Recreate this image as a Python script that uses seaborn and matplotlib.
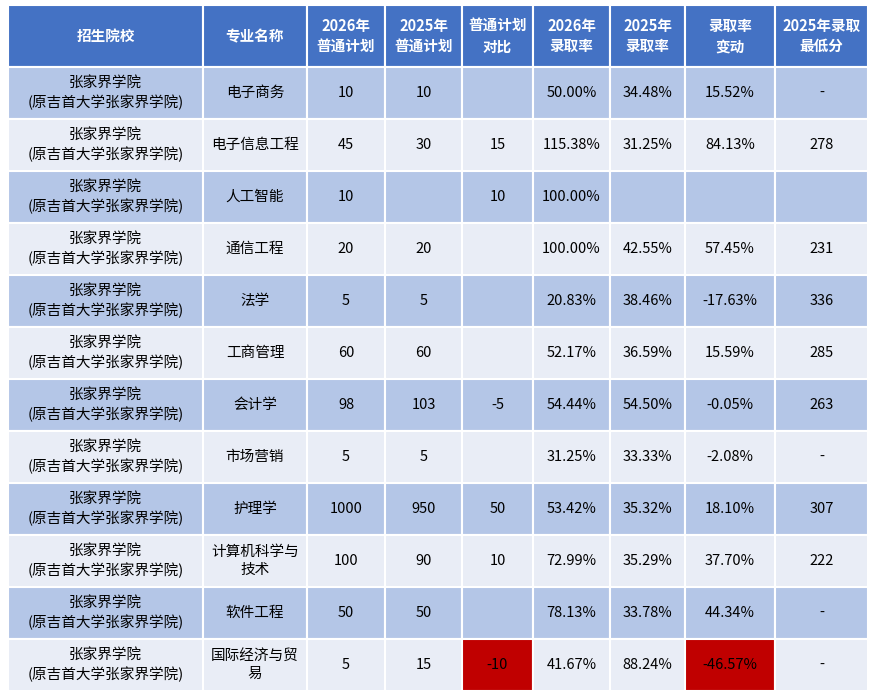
import matplotlib
matplotlib.use("Agg")
import matplotlib.pyplot as plt
import seaborn as sns
from matplotlib.patches import Rectangle

sns.set_theme(style="white")
plt.rcParams['font.family'] = ['Noto Sans CJK SC', 'DejaVu Sans']

headers = ["招生院校", "专业名称", "2026年\n普通计划", "2025年\n普通计划", "普通计划\n对比",
           "2026年\n录取率", "2025年\n录取率", "录取率\n变动", "2025年录取\n最低分"]
school = "张家界学院\n(原吉首大学张家界学院)"
majors = ["电子商务", "电子信息工程", "人工智能", "通信工程", "法学", "工商管理", "会计学",
          "市场营销", "护理学", "计算机科学与\n技术", "软件工程", "国际经济与贸\n易"]
plan2026 = ["10", "45", "10", "20", "5", "60", "98", "5", "1000", "100", "50", "5"]
plan2025 = ["10", "30", "", "20", "5", "60", "103", "5", "950", "90", "50", "15"]
plan_diff = ["", "15", "10", "", "", "", "-5", "", "50", "10", "", "-10"]
rate2026 = ["50.00%", "115.38%", "100.00%", "100.00%", "20.83%", "52.17%", "54.44%",
            "31.25%", "53.42%", "72.99%", "78.13%", "41.67%"]
rate2025 = ["34.48%", "31.25%", "", "42.55%", "38.46%", "36.59%", "54.50%", "33.33%",
            "35.32%", "35.29%", "33.78%", "88.24%"]
rate_chg = ["15.52%", "84.13%", "", "57.45%", "-17.63%", "15.59%", "-0.05%", "-2.08%",
            "18.10%", "37.70%", "44.34%", "-46.57%"]
min2025 = ["-", "278", "", "231", "336", "285", "263", "-", "307", "222", "-", "-"]
red_cells = [(11, 4), (11, 7)]

col_edges = [8, 203, 307, 385, 462, 533, 610, 685, 775, 868]
row_edges = [5, 67] + [67 + 52 * (i + 1) for i in range(12)]

fig = plt.figure(figsize=(8.73, 6.92), dpi=100)
ax = fig.add_axes([0, 0, 1, 1])
ax.set_xlim(0, 873)
ax.set_ylim(692, 0)
ax.axis("off")

def cell(r, c, color, text, tcolor="#000000", bold=False):
    x0, x1 = col_edges[c], col_edges[c + 1]
    y0, y1 = row_edges[r], row_edges[r + 1]
    ax.add_patch(Rectangle((x0, y0), x1 - x0, y1 - y0, facecolor=color,
                           edgecolor="white", linewidth=1.5))
    if text:
        ax.text((x0 + x1) / 2, (y0 + y1) / 2, text, ha="center", va="center",
                fontsize=10.5, color=tcolor, fontweight="bold" if bold else "normal",
                linespacing=1.35)

for c, h in enumerate(headers):
    cell(0, c, "#4472C4", h, "white", True)

for i in range(12):
    bg = "#B4C6E7" if i % 2 == 0 else "#E9EDF6"
    vals = [school, majors[i], plan2026[i], plan2025[i], plan_diff[i], rate2026[i],
            rate2025[i], rate_chg[i], min2025[i]]
    for c, v in enumerate(vals):
        color = "#C00000" if (i, c) in red_cells else bg
        cell(i + 1, c, color, v)

fig.savefig("out.png", dpi=100, facecolor="white")
